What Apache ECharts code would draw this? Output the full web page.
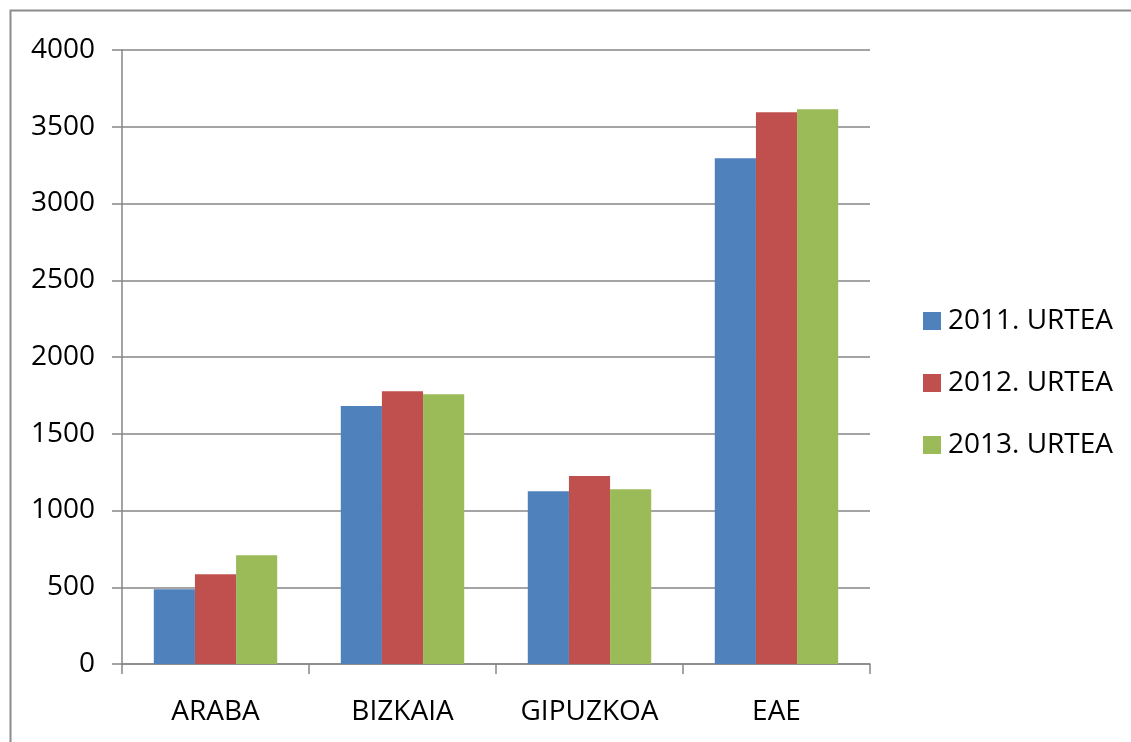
<!DOCTYPE html>
<html><head><meta charset="utf-8">
<script src="https://cdn.jsdelivr.net/npm/echarts@6/dist/echarts.min.js"></script>
<style>html,body{margin:0;padding:0;background:#fff}#c{width:1131px;height:742px}</style>
</head><body><div id="c"></div>
<script>
var categories = ['ARABA', 'BIZKAIA', 'GIPUZKOA', 'EAE'];
var seriesNames = ['2011. URTEA', '2012. URTEA', '2013. URTEA'];
var values2011 = [487, 1681, 1125, 3294];
var values2012 = [584, 1777, 1225, 3594];
var values2013 = [708, 1757, 1138, 3614];
var colors = ['#4f81bd', '#c0504d', '#9bbb59'];

var chart = echarts.init(document.getElementById('c'));
var font = "'Open Sans', sans-serif";
var data = [values2011, values2012, values2013];
chart.setOption({
  animation: false,
  graphic: [{
    type: 'rect', shape: { x: 10.5, y: 10.5, width: 1300, height: 900 },
    style: { fill: 'none', stroke: '#8c8c8c', lineWidth: 2 }, silent: true
  }],
  grid: { left: 122, right: 261, top: 50, bottom: 78 },
  legend: {
    orient: 'vertical', left: 918, top: 302, itemGap: 34,
    itemWidth: 18, itemHeight: 18, icon: 'rect',
    textStyle: { fontFamily: font, fontSize: 28, color: '#000', padding: [0, 0, 0, 2] },
    data: seriesNames
  },
  xAxis: {
    type: 'category', data: categories,
    axisLine: { lineStyle: { color: '#868686', width: 1.5 } },
    axisTick: { show: true, length: 10, lineStyle: { color: '#868686', width: 1.5 } },
    axisLabel: { fontFamily: font, fontSize: 28, color: '#000', margin: 34 }
  },
  yAxis: {
    type: 'value', min: 0, max: 4000, interval: 500,
    axisLine: { show: true, lineStyle: { color: '#868686', width: 1.5 } },
    axisTick: { show: true, length: 10, lineStyle: { color: '#868686', width: 1.5 } },
    splitLine: { lineStyle: { color: '#868686', width: 1.5 } },
    axisLabel: { fontFamily: font, fontSize: 28, color: '#000', margin: 27,
      formatter: function (v) { return String(v); } }
  },
  series: seriesNames.map(function (n, i) {
    return {
      name: n, type: 'bar', data: data[i], barGap: '0%', barCategoryGap: '34%',
      itemStyle: { color: colors[i] }
    };
  })
});
</script></body></html>
